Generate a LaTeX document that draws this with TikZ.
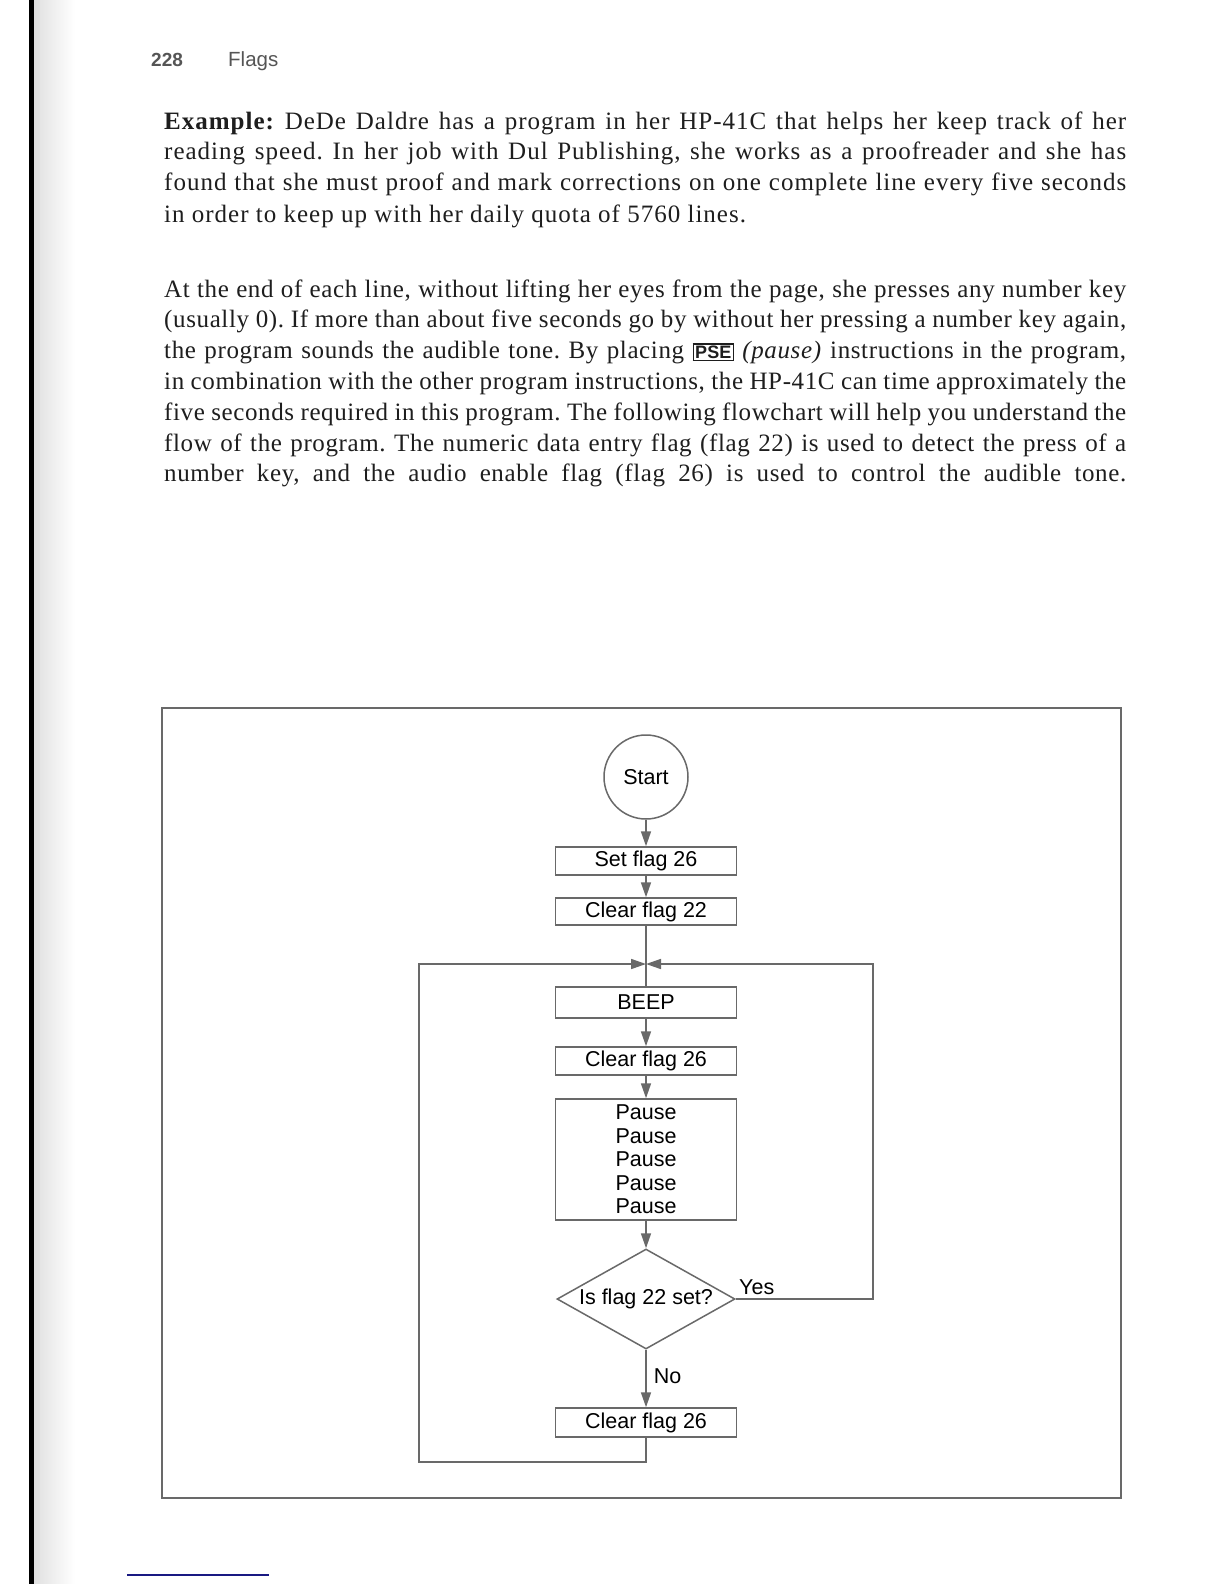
\documentclass[tikz,border=0pt]{standalone}
\usepackage{fontspec}
\setmainfont{Liberation Serif}
\setsansfont{Liberation Sans}
\usetikzlibrary{arrows.meta,shapes.geometric}
\definecolor{lc}{RGB}{105,105,105}
\definecolor{hdr}{RGB}{85,85,85}
\definecolor{navy}{RGB}{25,25,130}
\definecolor{ink}{RGB}{30,30,30}
\newcommand\keybox[1]{{\setlength\fboxsep{1.5pt}\setlength\fboxrule{1.2pt}\fbox{\fontsize{18}{18}\selectfont\sffamily\bfseries #1}}}
\begin{document}
\begin{tikzpicture}[x=1pt,y=-1pt,
  flow/.style={font=\fontsize{21.5}{23.5}\selectfont\sffamily},
  stepbox/.style={flow,draw=lc,line width=1.5pt,rectangle,minimum width=181pt,inner sep=0pt},
  conn/.style={draw=lc,line width=1.6pt},
  arr/.style={conn,-{Triangle[length=15pt,width=10pt]}},
  body/.style={anchor=base west,inner sep=0pt,text width=962pt,align=justify,text=ink}
]
\useasboundingbox (0,0) rectangle (1224,1584);
\fill[white] (0,0) rectangle (1224,1584);
% scan edge
\shade[left color=black!12,right color=white] (34,0) rectangle (75,1584);
\fill[black] (29,0) rectangle (34,1584);
\draw[navy,line width=1.5pt] (127,1575) -- (269,1575);

% header
\node[anchor=base west,inner sep=0pt,font=\fontsize{19}{19}\selectfont\sffamily\bfseries,text=hdr] (pg) at (151,67) {228};
\node[anchor=base west,inner sep=0pt,font=\fontsize{20.5}{20}\selectfont\sffamily,text=hdr] (hd) at (228,67) {Flags};

% body text
\node[body,font=\fontsize{25}{31}\selectfont\addfontfeature{LetterSpace=4}\frenchspacing] (p1) at (164,129) {\textbf{Example:} DeDe Daldre has a program in her HP-41C that helps her keep track of her\linebreak
reading speed. In her job with Dul Publishing, she works as a proofreader and she has\linebreak
found that she must proof and mark corrections on one complete line every five seconds\linebreak
in order to keep up with her daily quota of 5760 lines.};

\node[body,font=\fontsize{25}{30.8}\selectfont\addfontfeature{LetterSpace=2.5}\frenchspacing] (p2) at (164,297) {At the end of each line, without lifting her eyes from the page, she presses any number key\linebreak
(usually 0). If more than about five seconds go by without her pressing a number key again,\linebreak
the program sounds the audible tone. By placing \keybox{PSE} \textit{(pause)} instructions in the program,\linebreak
in combination with the other program instructions, the HP-41C can time approximately the\linebreak
five seconds required in this program. The following flowchart will help you understand the\linebreak
flow of the program. The numeric data entry flag (flag 22) is used to detect the press of a\linebreak
\makebox[\linewidth][s]{number key, and the audio enable flag (flag 26) is used to control the audible tone.}};

% frame
\draw[lc,line width=1.3pt] (162,708) rectangle (1121,1498);

% flowchart
\node[circle,draw=lc,line width=1.5pt,minimum size=84pt,inner sep=0pt,flow] (start) at (646,777) {Start};
\node[stepbox,minimum height=28pt] (set26) at (646,861) {Set flag 26};
\node[stepbox,minimum height=27pt] (clr22) at (646,911.5) {Clear flag 22};
\coordinate (join) at (646,964);
\node[stepbox,minimum height=31pt] (beep) at (646,1002.5) {BEEP};
\node[stepbox,minimum height=28pt] (clr26a) at (646,1061) {Clear flag 26};
\node[stepbox,minimum height=121pt,align=center] (pause) at (646,1159.5) {Pause\\Pause\\Pause\\Pause\\Pause};
\node[diamond,shape aspect=1.78,draw=lc,line width=1.5pt,minimum width=178pt,minimum height=100pt,inner sep=0pt,flow] (dec) at (646,1299) {Is flag 22 set?};
\node[stepbox,minimum height=29pt] (clr26b) at (646,1422.5) {Clear flag 26};
\coordinate (yesturn) at (873,964);
\coordinate (loopturn) at (419,1462);

\draw[arr] (start) -- (set26);
\draw[arr] (set26) -- (clr22);
\draw[conn] (clr22) -- (beep);
\draw[arr] (beep) -- (clr26a);
\draw[arr] (clr26a) -- (pause);
\draw[arr] (pause) -- (dec);
\draw[arr] (dec) -- node[flow,anchor=west,inner sep=0pt,xshift=7pt,yshift=2.5pt] (no) {No} (clr26b);
\draw[arr] (dec.east) -| (yesturn) -- (join);
\draw[arr] (clr26b.south) |- (loopturn) |- (join);
\node[flow,anchor=base west,inner sep=0pt] (yes) at (739,1294) {Yes};
\end{tikzpicture}
\end{document}
